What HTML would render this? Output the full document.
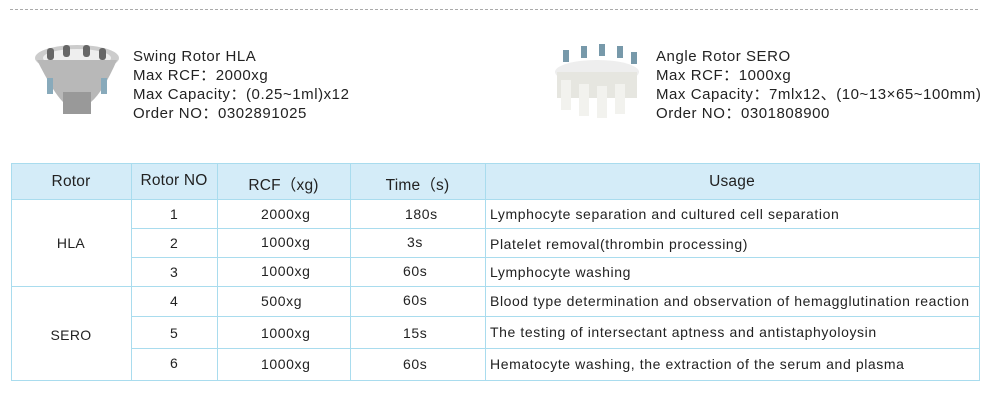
<!DOCTYPE html>
<html><head><meta charset="utf-8"><style>
body{margin:0;width:1000px;height:403px;background:#fff;font-family:"Liberation Sans","Noto Sans CJK SC",sans-serif;color:#222;position:relative;overflow:hidden}
.t{position:absolute;font-size:15px;line-height:19px;white-space:nowrap;letter-spacing:0.55px}
.c{position:absolute;font-size:14px;text-align:center;white-space:nowrap;letter-spacing:0.3px}
.l{position:absolute;font-size:14px;white-space:nowrap;letter-spacing:0.6px}
.h{position:absolute;font-size:15.5px;text-align:center;letter-spacing:0.2px}
.hl{position:absolute;background:#a9dcee;height:1px}
.vl{position:absolute;background:#a9dcee;width:1px}
</style></head><body>
<div style="position:absolute;left:10px;top:9px;width:968px;border-top:1px dashed #aaa"></div>
<svg style="position:absolute;left:33px;top:42px" width="88" height="75">
<ellipse cx="44" cy="16" rx="42" ry="13" fill="#ccc"/>
<ellipse cx="44" cy="16" rx="34" ry="9" fill="#eee"/>
<g fill="#666"><rect x="14" y="6" width="7" height="12" rx="3"/><rect x="30" y="3" width="7" height="12" rx="3"/><rect x="50" y="3" width="7" height="12" rx="3"/><rect x="66" y="6" width="7" height="12" rx="3"/></g>
<path d="M4 18 Q20 50 30 60 L58 60 Q70 50 84 18 Z" fill="#b8b8b8"/>
<rect x="30" y="50" width="28" height="22" fill="#999"/>
<rect x="14" y="36" width="6" height="16" fill="#8ab"/><rect x="68" y="36" width="6" height="16" fill="#8ab"/>
</svg>
<svg style="position:absolute;left:551px;top:44px" width="92" height="75">
<ellipse cx="46" cy="28" rx="42" ry="12" fill="#eee"/>
<rect x="6" y="28" width="80" height="26" fill="#e6e6e0"/>
<g fill="#f2f2ee"><rect x="10" y="36" width="10" height="30"/><rect x="28" y="40" width="10" height="32"/><rect x="46" y="42" width="10" height="32"/><rect x="64" y="40" width="10" height="30"/></g>
<g fill="#79a"><rect x="12" y="6" width="6" height="12"/><rect x="30" y="2" width="6" height="12"/><rect x="48" y="0" width="6" height="12"/><rect x="66" y="2" width="6" height="12"/><rect x="80" y="8" width="6" height="12"/></g>
</svg>
<div class="t" style="left:133px;top:47px">Swing Rotor HLA<br>Max RCF：2000xg<br>Max Capacity：(0.25~1ml)x12<br>Order NO：0302891025</div>
<div class="t" style="left:656px;top:47px">Angle Rotor SERO<br>Max RCF：1000xg<br>Max Capacity：7mlx12、(10~13×65~100mm)<br>Order NO：0301808900</div>
<div style="position:absolute;left:11px;top:163px;width:968px;height:36px;background:#d4ecf8"></div>
<div class="hl" style="left:11px;top:163px;width:968px"></div>
<div class="hl" style="left:11px;top:199px;width:968px"></div>
<div class="hl" style="left:131px;top:228px;width:848px"></div>
<div class="hl" style="left:131px;top:257px;width:848px"></div>
<div class="hl" style="left:11px;top:286px;width:968px"></div>
<div class="hl" style="left:131px;top:316px;width:848px"></div>
<div class="hl" style="left:131px;top:348px;width:848px"></div>
<div class="hl" style="left:11px;top:380px;width:968px"></div>
<div class="vl" style="left:11px;top:163px;height:218px"></div>
<div class="vl" style="left:131px;top:163px;height:218px"></div>
<div class="vl" style="left:217px;top:163px;height:218px"></div>
<div class="vl" style="left:350px;top:163px;height:218px"></div>
<div class="vl" style="left:485px;top:163px;height:218px"></div>
<div class="vl" style="left:979px;top:163px;height:218px"></div>
<div class="h" style="left:11px;width:120px;top:173px">Rotor</div>
<div class="h" style="left:131px;width:86px;top:172px">Rotor NO</div>
<div class="h" style="left:217px;width:133px;top:173px">RCF（xg)</div>
<div class="h" style="left:350px;width:135px;top:173px">Time（s)</div>
<div class="h" style="left:485px;width:494px;top:173px">Usage</div>
<div class="c" style="left:11px;width:120px;top:235px">HLA</div>
<div class="c" style="left:11px;width:120px;top:327px">SERO</div>
<div class="c" style="left:131px;width:86px;top:206px">1</div>
<div class="c" style="left:131px;width:86px;top:235px">2</div>
<div class="c" style="left:131px;width:86px;top:264px">3</div>
<div class="c" style="left:131px;width:86px;top:293px">4</div>
<div class="c" style="left:131px;width:86px;top:325px">5</div>
<div class="c" style="left:131px;width:86px;top:355px">6</div>
<div class="l" style="left:261px;top:206px">2000xg</div>
<div class="l" style="left:261px;top:234px">1000xg</div>
<div class="l" style="left:261px;top:263px">1000xg</div>
<div class="l" style="left:261px;top:293px">500xg</div>
<div class="l" style="left:261px;top:325px">1000xg</div>
<div class="l" style="left:261px;top:356px">1000xg</div>
<div class="l" style="left:405px;top:206px">180s</div>
<div class="l" style="left:407px;top:234px">3s</div>
<div class="l" style="left:403px;top:263px">60s</div>
<div class="l" style="left:403px;top:292px">60s</div>
<div class="l" style="left:403px;top:325px">15s</div>
<div class="l" style="left:403px;top:356px">60s</div>
<div class="l" style="left:490px;top:206px">Lymphocyte separation and cultured cell separation</div>
<div class="l" style="left:490px;top:236px">Platelet removal(thrombin processing)</div>
<div class="l" style="left:490px;top:264px">Lymphocyte washing</div>
<div class="l" style="left:490px;top:293px">Blood type determination and observation of hemagglutination reaction</div>
<div class="l" style="left:490px;top:324px">The testing of intersectant aptness and antistaphyoloysin</div>
<div class="l" style="left:490px;top:356px">Hematocyte washing, the extraction of the serum and plasma</div>
</body></html>
